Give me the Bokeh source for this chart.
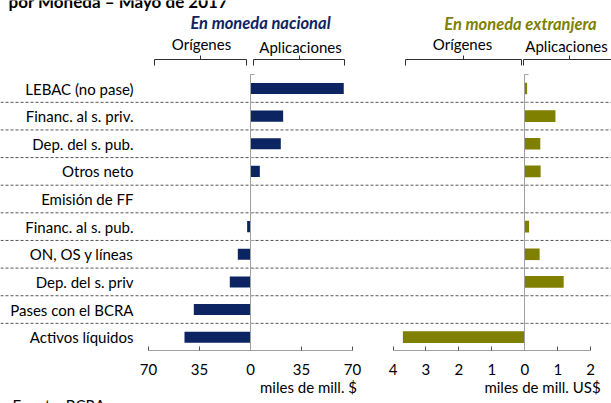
from bokeh.plotting import figure
from bokeh.models import Range1d, LinearAxis, FixedTicker
from bokeh.core.properties import value
from bokeh.embed import file_html
from bokeh.resources import INLINE

# ---------------- data ----------------
categorias = ["LEBAC (no pase)", "Financ. al s. priv.", "Dep. del s. pub.", "Otros neto",
              "Emisión de FF", "Financ. al s. pub.", "ON, OS y líneas", "Dep. del s. priv",
              "Pases con el BCRA", "Activos líquidos"]
moneda_nacional = [64.0, 22.4, 20.8, 6.4, 0.0, -2.3, -8.7, -14.2, -38.9, -45.3]      # miles de mill. $
moneda_extranjera = [0.07, 0.93, 0.47, 0.48, 0.0, 0.13, 0.45, 1.18, 0.0, -3.70]      # miles de mill. US$
ticks_nac = [-70, -35, 0, 35, 70]
tick_labels_nac = ["70", "35", "0", "35", "70"]
ticks_ext = [-4, -3, -2, -1, 0, 1, 2]
tick_labels_ext = ["4", "3", "2", "1", "0", "1", "2"]

# ---------------- style / layout ----------------
NAVY = "#0d2462"
OLIVE = "#7f7f00"
AXIS_GRAY = "#a0a0a0"
GRID = "#555555"
FONTNAME = "Lato"
FONT = value(FONTNAME)

W, H = 611, 403
X0, Y0 = 0, 0
p = figure(width=W, height=H,
           x_range=Range1d(X0, X0 + W), y_range=Range1d(Y0 + H, Y0),
           x_axis_type=None, y_axis_type=None,
           output_backend="svg", toolbar_location=None,
           min_border=0, outline_line_color=None,
           background_fill_color="white", border_fill_color="white")

# panel scales (pixel anchors of zero and pixels per unit)
nac_zero, nac_ppu = 250.0, 204.0 / 140.0
ext_zero, ext_ppu = 524.3, 197.7 / 6.0
cat_top, cat_step = 88.0, 27.63
p.extra_x_ranges = {
    "nac": Range1d((X0 - nac_zero) / nac_ppu, (X0 + W - nac_zero) / nac_ppu),
    "ext": Range1d((X0 - ext_zero) / ext_ppu, (X0 + W - ext_zero) / ext_ppu),
}
p.extra_y_ranges = {"cat": Range1d(start=(Y0 + H - cat_top) / cat_step, end=(Y0 - cat_top) / cat_step)}

idx = list(range(len(categorias)))
n = len(categorias)
boundaries = [i + 0.5 for i in range(n - 1)]

# dotted separators
p.segment(x0=0, x1=611, y0=boundaries, y1=boundaries, y_range_name="cat",
          line_color=GRID, line_dash="3 2", line_width=1)

# bars
p.hbar(y=idx, left=0, right=moneda_nacional, height=0.4,
       x_range_name="nac", y_range_name="cat", fill_color=NAVY, line_color=None)
p.hbar(y=idx, left=0, right=moneda_extranjera, height=0.42,
       x_range_name="ext", y_range_name="cat", fill_color=OLIVE, line_color=None)

# vertical zero axes
yax = LinearAxis(x_range_name="nac", y_range_name="cat", fixed_location=0,
                 bounds=(-0.5, n - 0.5),
                 ticker=FixedTicker(ticks=idx, minor_ticks=[i - 0.5 for i in range(n + 1)]),
                 major_label_overrides={i: c for i, c in zip(idx, categorias)},
                 major_label_standoff=117,
                 major_label_text_font=FONTNAME, major_label_text_font_size="15px",
                 major_label_text_color="#000000",
                 major_tick_in=0, major_tick_out=0, minor_tick_in=4, minor_tick_out=0,
                 axis_line_color=AXIS_GRAY, minor_tick_line_color=AXIS_GRAY)
p.add_layout(yax, "left")

yax2 = LinearAxis(x_range_name="ext", y_range_name="cat", fixed_location=0,
                  bounds=(-0.5, n - 0.5),
                  ticker=FixedTicker(ticks=idx, minor_ticks=[i - 0.5 for i in range(n + 1)]),
                  major_label_overrides={i: "" for i in idx},
                  major_tick_in=0, major_tick_out=0, minor_tick_in=4, minor_tick_out=0,
                  axis_line_color=AXIS_GRAY, minor_tick_line_color=AXIS_GRAY)
p.add_layout(yax2, "left")

# horizontal value axes
for rng, ticks, labels in (("nac", ticks_nac, tick_labels_nac), ("ext", ticks_ext, tick_labels_ext)):
    ax = LinearAxis(x_range_name=rng, y_range_name="cat", fixed_location=n - 0.5,
                    bounds=(ticks[0], ticks[-1]),
                    ticker=FixedTicker(ticks=ticks),
                    major_label_overrides={t: l for t, l in zip(ticks, labels)},
                    major_label_standoff=13,
                    major_label_text_font=FONTNAME, major_label_text_font_size="15px",
                    major_label_text_color="#000000",
                    major_tick_in=4, major_tick_out=0, minor_tick_in=0, minor_tick_out=0,
                    axis_line_color=AXIS_GRAY, major_tick_line_color="#505050")
    p.add_layout(ax, "below")

# texts
p.text(x=[8], y=[1], text=["por Moneda – Mayo de 2017"], text_font=FONT,
       text_font_size="17px", text_font_style="bold", text_color="#000000",
       text_align="left", text_baseline="alphabetic")
p.text(x=[260], y=[22.5], text=["En moneda nacional"], text_font=FONT,
       text_font_size="16.5px", text_font_style="bold italic", text_color=NAVY,
       text_align="center", text_baseline="alphabetic")
p.text(x=[520], y=[23.5], text=["En moneda extranjera"], text_font=FONT,
       text_font_size="16.5px", text_font_style="bold italic", text_color=OLIVE,
       text_align="center", text_baseline="alphabetic")
p.text(x=[201, 300, 462, 566], y=[43.5, 46.5, 43.5, 45.5],
       text=["Orígenes", "Aplicaciones", "Orígenes", "Aplicaciones"], text_font=FONT,
       text_font_size="15px", text_color="#000000",
       text_align="center", text_baseline="alphabetic")
p.text(x=[308, 542], y=[386, 386], text=["miles de mill. $", "miles de mill. US$"],
       text_font=FONT, text_font_size="15px", text_color="#000000",
       text_align="center", text_baseline="alphabetic")
p.text(x=[12], y=[395], text=["Fuente: BCRA"], text_font=FONT,
       text_font_size="15px", text_color="#000000",
       text_align="left", text_baseline="top")

# brackets over Orígenes / Aplicaciones
brackets = [(154, 246, 200), (253, 344, 299), (405, 521, 463), (523, 612, 569)]
by, drop, rise = 59, 6, 4
xs, ys = [], []
for a, b, c in brackets:
    xs.append([a, a, b, b]); ys.append([by + drop, by, by, by + drop])
    xs.append([c, c]); ys.append([by, by - rise])
p.multi_line(xs=xs, ys=ys, line_color="#303030", line_width=1)

open("out.html", "w").write(file_html(p, INLINE))
